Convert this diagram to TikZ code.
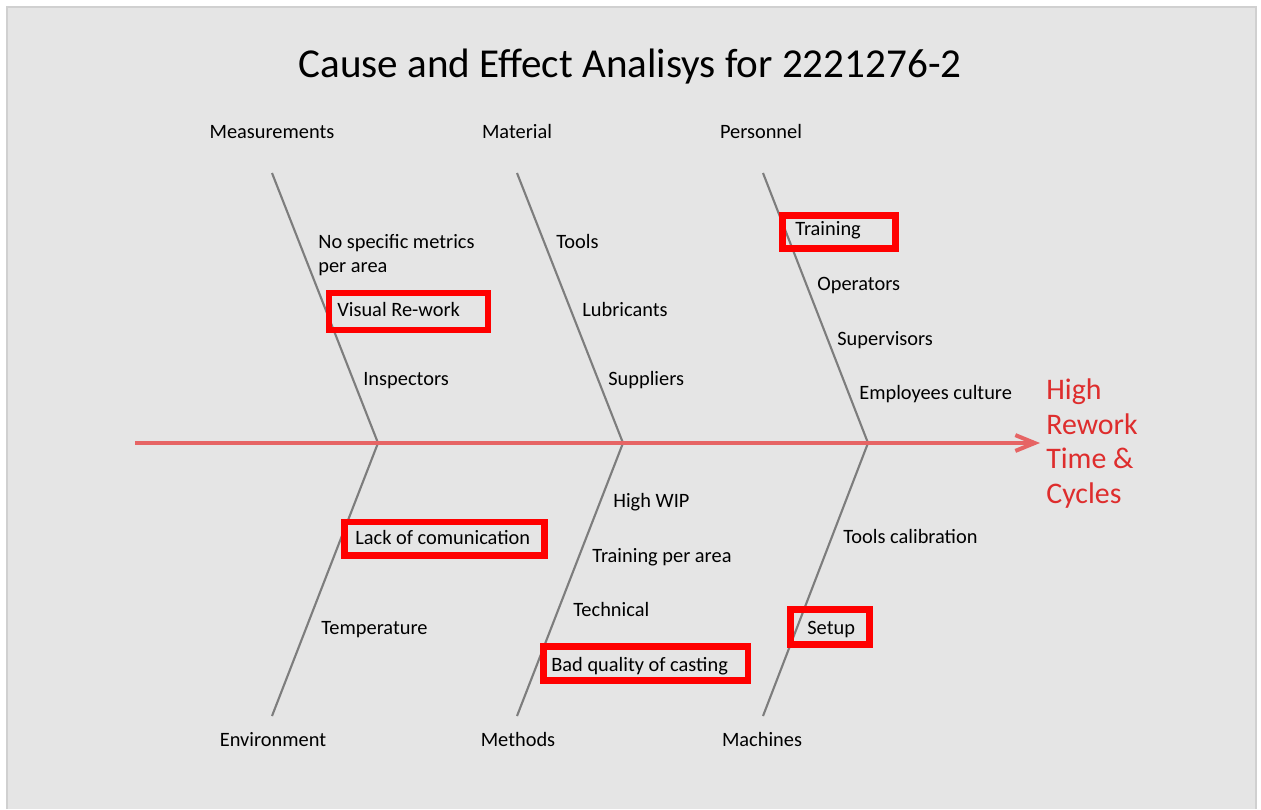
\documentclass[tikz,border=0pt]{standalone}
\usepackage{fontspec}
\setmainfont{Carlito}
\usetikzlibrary{arrows.meta}
\definecolor{bgcol}{RGB}{229,229,229}
\definecolor{framecol}{RGB}{208,208,208}
\definecolor{spinecol}{RGB}{230,100,100}
\definecolor{effectcol}{RGB}{222,45,45}
\definecolor{bonecol}{RGB}{125,125,125}
\tikzset{
  cause/.style={anchor=base west, inner sep=0pt, font=\fontsize{11.6}{13.6}\selectfont},
  category/.style={anchor=base, inner sep=0pt, font=\fontsize{11.6}{13.6}\selectfont},
  bone/.style={bonecol, line width=1.2pt},
  hilite/.style={red, line width=3.97pt},
}

\begin{document}
\begin{tikzpicture}[x=0.02cm, y=-0.02cm]
  \useasboundingbox (0,0) rectangle (1261,809);
  \fill[white] (0,0) rectangle (1261,809);
  \fill[bgcol] (7,7) rectangle (1256,809);
  \draw[framecol, line width=1pt] (7,809) -- (7,7) -- (1256,7) -- (1256,809);

  \node[anchor=base, inner sep=0pt, font=\fontsize{23.4}{28}\selectfont] (title) at (630,77) {Cause and Effect Analisys for 2221276-2};

  \coordinate (tail) at (135,443);
  \coordinate (head) at (1040,443);
  \coordinate (joint1) at (378,443);
  \coordinate (joint2) at (623,443);
  \coordinate (joint3) at (868,443);
  \coordinate (meastop) at (272,173);
  \coordinate (matertop) at (517,173);
  \coordinate (perstop) at (763,173);
  \coordinate (envbot) at (272,716);
  \coordinate (methbot) at (517,716);
  \coordinate (machbot) at (763,716);

  \draw[bone] (meastop) -- (joint1) -- (envbot);
  \draw[bone] (matertop) -- (joint2) -- (methbot);
  \draw[bone] (perstop) -- (joint3) -- (machbot);
  \draw[spinecol, line width=2.3pt, -{Straight Barb[length=11pt, width=9pt]}] (tail) -- (head);

  \node[category] (meas) at (272,138) {Measurements};
  \node[category] (mater) at (517,138) {Material};
  \node[category] (pers) at (761,138) {Personnel};
  \node[category] (envir) at (273,746) {Environment};
  \node[category] (meth) at (518,746) {Methods};
  \node[category] (mach) at (762,746) {Machines};

  \node[anchor=base west, inner sep=0pt, align=left, text=effectcol, font=\fontsize{17}{19.6}\selectfont] (effect) at (1046,503) {High\\Rework\\Time \&\\Cycles};

  \draw[hilite] (329,293) rectangle (488,330);
  \draw[hilite] (782.5,215.5) rectangle (895.5,248.5);
  \draw[hilite] (344.5,522) rectangle (544.5,555.5);
  \draw[hilite] (543.5,646) rectangle (748,680.5);
  \draw[hilite] (790.5,609.5) rectangle (869.5,644.5);

  \node[cause] (nometrics) at (318,248) {No specific metrics};
  \node[cause] (perarea) at (318,272) {per area};
  \node[cause] (visual) at (337,316) {Visual Re-work};
  \node[cause] (inspect) at (363,385) {Inspectors};

  \node[cause] (tools) at (556,248) {Tools};
  \node[cause] (lubric) at (582,316) {Lubricants};
  \node[cause] (suppl) at (608,385) {Suppliers};

  \node[cause] (training) at (795,235) {Training};
  \node[cause] (operat) at (817,290) {Operators};
  \node[cause] (superv) at (837,345) {Supervisors};
  \node[cause] (culture) at (859,399) {Employees culture};

  \node[cause] (comm) at (355,544) {Lack of comunication};
  \node[cause] (temper) at (321,634) {Temperature};

  \node[cause] (wip) at (613,507) {High WIP};
  \node[cause] (trainarea) at (592,562) {Training per area};
  \node[cause] (techn) at (573,616) {Technical};
  \node[cause] (casting) at (551,671) {Bad quality of casting};

  \node[cause] (calib) at (843,543) {Tools calibration};
  \node[cause] (setup) at (807,634) {Setup};
\end{tikzpicture}
\end{document}
